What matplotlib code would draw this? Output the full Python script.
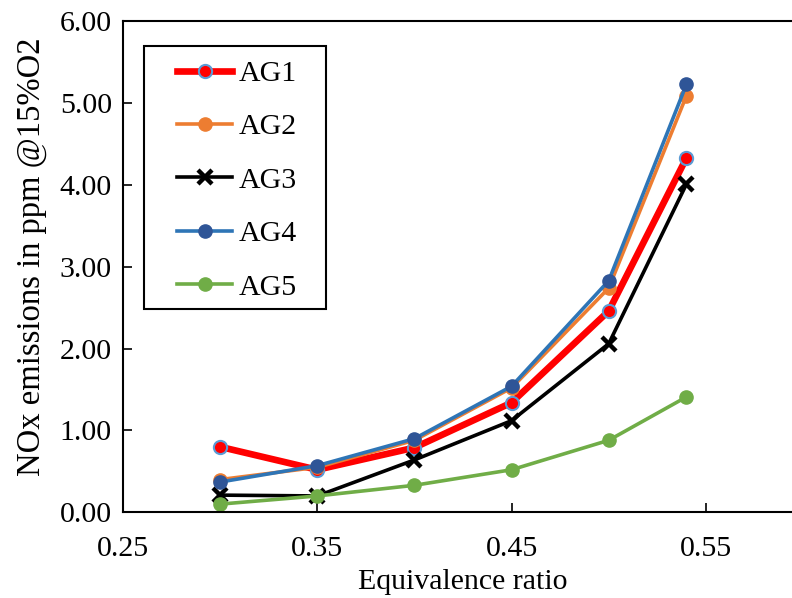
import matplotlib
matplotlib.use("Agg")
import matplotlib.pyplot as plt
from matplotlib.patches import Rectangle

# Equivalence ratio and NOx emissions (ppm @15%O2) for each gas
phi = [0.30, 0.35, 0.40, 0.45, 0.50, 0.54]
ag1 = [0.80, 0.52, 0.79, 1.34, 2.46, 4.33]
ag2 = [0.40, 0.55, 0.88, 1.52, 2.74, 5.09]
ag3 = [0.21, 0.20, 0.64, 1.12, 2.06, 4.01]
ag4 = [0.37, 0.57, 0.90, 1.54, 2.83, 5.23]
ag5 = [0.10, 0.20, 0.33, 0.52, 0.88, 1.41]

x_ticks = [0.25, 0.35, 0.45, 0.55]
y_ticks = [0, 1, 2, 3, 4, 5, 6]

plt.rcParams["font.family"] = ["Liberation Serif", "DejaVu Serif"]
plt.rcParams["font.size"] = 21.5

fig = plt.figure(figsize=(7.92, 5.98), dpi=100)
ax = fig.add_axes([0.1553, 0.1433, 1.0139 - 0.1553, 0.9644 - 0.1433])

lw = 2.6
ax.plot(phi, ag1, color="#FF0000", lw=4.8, marker="o", ms=9.5,
        mfc="#FF0000", mec="#5B9BD5", mew=1.5, label="AG1")
ax.plot(phi, ag2, color="#ED7D31", lw=lw, marker="o", ms=9.5,
        mfc="#ED7D31", mec="#ED7D31", label="AG2")
ax.plot(phi, ag3, color="black", lw=lw, marker="x", ms=9.5,
        mew=3.2, label="AG3")
ax.plot(phi, ag4, color="#2E75B6", lw=lw, marker="o", ms=9.5,
        mfc="#2F5597", mec="#2F5597", label="AG4")
ax.plot(phi, ag5, color="#70AD47", lw=lw, marker="o", ms=9.5,
        mfc="#70AD47", mec="#70AD47", label="AG5")

ax.set_xlim(0.25, 0.60)
ax.set_ylim(0, 6)
ax.set_xticks(x_ticks)
ax.set_xticklabels([f"{v:.2f}" for v in x_ticks])
ax.set_yticks(y_ticks)
ax.set_yticklabels([f"{v:.2f}" for v in y_ticks])

ax.tick_params(axis="both", direction="in", length=6.5, width=1.2)
ax.tick_params(axis="x", pad=17)
ax.tick_params(axis="y", pad=8)

for side in ["left", "bottom", "top"]:
    ax.spines[side].set_linewidth(1.5)
ax.spines["right"].set_visible(False)

ax.set_xlabel("Equivalence ratio", labelpad=5)
ax.set_ylabel("NOx emissions in ppm @15%O2", fontsize=23.5)
ax.yaxis.set_label_coords(-0.112, 0.52)

# legend entries without frame, boxed by a separate rectangle
leg = ax.legend(loc="upper left", bbox_to_anchor=(0.0795, 0.921),
                borderaxespad=0, borderpad=0, frameon=False,
                handlelength=1.85, handletextpad=0.2, labelspacing=0.89)
ax.add_patch(Rectangle((0.031, 0.414), 0.299 - 0.031, 0.950 - 0.414,
                       transform=ax.transAxes, fill=False,
                       edgecolor="black", linewidth=1.5, zorder=5))

fig.savefig("out.png", dpi=100)
